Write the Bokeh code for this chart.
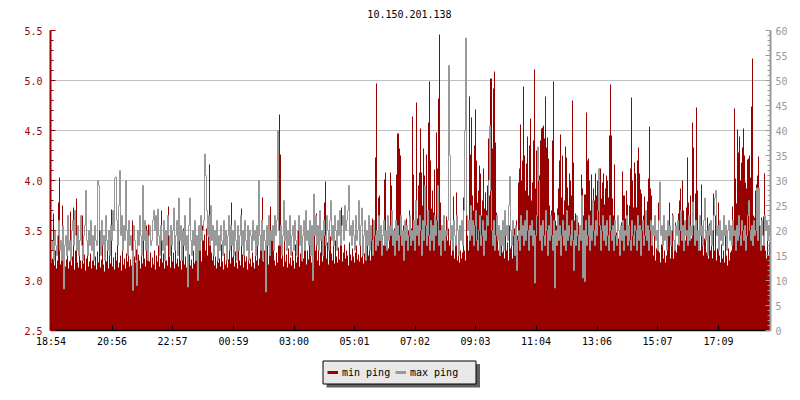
from bokeh.plotting import figure
from bokeh.layouts import column
from bokeh.models import (Range1d, LinearAxis, SingleIntervalTicker, FixedTicker,
                          PrintfTickFormatter)
from bokeh.core.properties import value
from bokeh.embed import file_html
from bokeh.resources import INLINE

title_text = "10.150.201.138"
sample_minutes = 2
tick_minutes = [0, 122, 243, 365, 486, 607, 728, 849, 970, 1092, 1213, 1335]
tick_labels = ["18:54", "20:56", "22:57", "00:59", "03:00", "05:01",
               "07:02", "09:03", "11:04", "13:06", "15:07", "17:09"]
series_names = ["min ping", "max ping"]

# min ping (ms), left axis, one value per 2-minute sample
min_ping = [
    3.18, 3.22, 3.67, 3.15, 3.30, 3.12, 3.20, 3.78, 4.03, 3.16, 3.25, 3.75, 3.10, 3.28, 3.14, 3.21, 3.35, 3.12, 3.19, 3.69,
    3.15, 3.24, 3.73, 3.11, 3.30, 3.82, 3.18, 3.13, 3.40, 3.20, 3.12, 3.65, 3.17, 3.26, 3.10, 3.22, 3.33, 3.14, 3.19, 3.27,
    3.12, 3.20, 3.38, 3.15, 3.24, 3.11, 3.29, 3.18, 3.60, 3.13, 3.21, 3.35, 3.16, 3.09, 3.25, 3.19, 3.30, 3.12, 3.44, 3.17,
    3.71, 3.14, 3.23, 3.11, 3.28, 3.20, 3.36, 3.13, 3.18, 3.25, 3.10, 3.32, 3.16, 3.22, 3.12, 3.27, 3.19, 3.42, 3.14, 3.21,
    3.15, 3.60, 3.10, 3.24, 3.18, 3.31, 3.13, 3.26, 3.20, 3.12, 3.38, 3.17, 3.70, 3.22, 3.14, 3.55, 3.50, 3.56, 3.19, 3.28,
    3.13, 3.23, 3.16, 3.30, 3.11, 3.25, 3.19, 3.35, 3.14, 3.22, 3.70, 3.18, 3.27, 3.12, 3.40, 3.20, 3.15, 3.74, 3.24, 3.13,
    3.55, 3.19, 3.28, 3.12, 3.33, 3.17, 3.22, 3.14, 3.75, 3.20, 3.11, 3.29, 3.52, 3.16, 3.24, 3.13, 3.37, 3.18, 3.26, 3.15,
    3.21, 3.12, 3.30, 3.17, 3.23, 3.45, 3.14, 3.27, 3.50, 3.48, 3.19, 3.55, 3.40, 3.46, 3.30, 3.52, 3.25, 3.44, 4.16, 3.38,
    3.28, 3.20, 3.50, 3.15, 3.24, 3.12, 3.33, 3.18, 3.22, 3.14, 3.36, 3.19, 3.11, 3.27, 3.16, 3.30, 3.13, 3.21, 3.35, 3.17,
    3.78, 3.23, 3.42, 3.14, 3.29, 3.18, 3.12, 3.32, 3.20, 3.15, 3.72, 3.26, 3.13, 3.40, 3.19, 3.24, 3.11, 3.34, 3.17, 3.22,
    3.14, 3.28, 3.18, 3.12, 3.25, 3.20, 3.35, 3.15, 3.22, 3.45, 3.60, 3.83, 3.19, 3.30, 3.10, 3.24, 3.42, 3.16, 3.38, 3.74,
    3.45, 3.40, 3.47, 3.20, 3.15, 3.28, 3.18, 3.35, 4.66, 4.26, 3.22, 3.30, 3.14, 3.40, 3.19, 3.26, 3.13, 3.32, 3.17, 3.23,
    3.15, 3.29, 3.20, 3.12, 3.36, 3.18, 3.24, 3.50, 3.14, 3.27, 3.33, 3.19, 3.22, 3.40, 3.53, 3.16, 3.30, 3.21, 3.38, 3.25,
    3.18, 3.34, 3.23, 3.45, 3.30, 3.67, 3.20, 3.36, 3.15, 3.28, 3.42, 3.19, 3.25, 3.78, 3.99, 3.22, 3.38, 3.16, 3.31, 3.44,
    3.27, 3.20, 3.35, 3.17, 3.40, 3.24, 3.18, 3.33, 3.21, 3.46, 3.73, 3.19, 3.28, 3.36, 3.22, 3.30, 3.25, 3.15, 3.38, 3.26,
    3.20, 3.32, 3.24, 3.18, 3.28, 3.35, 3.21, 3.26, 3.19, 3.40, 3.23, 3.30, 3.17, 3.27, 3.36, 3.22, 3.45, 3.25, 3.31, 3.20,
    3.55, 3.62, 3.48, 3.60, 4.23, 4.97, 3.50, 3.83, 3.85, 3.40, 3.30, 3.45, 3.35, 4.01, 4.08, 3.38, 3.50, 3.32, 3.44, 4.08,
    3.95, 3.48, 3.36, 3.52, 3.40, 4.06, 4.47, 4.47, 4.32, 4.25, 3.60, 3.42, 3.55, 3.38, 3.46, 3.62, 3.35, 3.50, 3.70, 3.44,
    3.52, 4.64, 4.06, 3.58, 3.70, 4.78, 3.62, 3.95, 4.08, 4.52, 4.08, 3.75, 4.32, 4.05, 3.80, 4.26, 3.66, 4.58, 4.99, 4.20,
    3.72, 3.90, 3.68, 4.11, 3.60, 4.48, 4.12, 4.82, 5.46, 3.78, 3.50, 3.42, 3.58, 3.36, 3.48, 3.64, 3.40, 3.52, 3.35, 3.45,
    3.25, 3.40, 3.84, 3.22, 3.35, 3.88, 3.20, 3.38, 3.18, 3.30, 3.22, 3.28, 3.83, 3.30, 3.20, 3.82, 3.45, 3.30, 4.84, 4.26,
    4.63, 3.85, 3.70, 4.35, 4.71, 4.20, 3.78, 3.90, 4.15, 4.07, 3.65, 3.80, 4.12, 3.72, 3.88, 3.70, 3.95, 4.42, 3.85, 5.02,
    5.02, 4.32, 4.92, 5.09, 4.38, 3.68, 3.45, 3.30, 3.42, 3.25, 3.50, 3.28, 3.40, 3.22, 3.46, 3.30, 3.38, 3.20, 3.55, 3.32,
    3.35, 3.22, 3.45, 3.52, 3.30, 3.60, 3.45, 3.98, 4.12, 4.56, 4.00, 4.20, 4.94, 4.25, 3.90, 4.17, 4.44, 3.85, 4.35, 4.62,
    3.80, 3.98, 4.40, 5.11, 3.92, 4.30, 3.85, 4.32, 4.05, 4.40, 4.52, 4.53, 4.55, 4.42, 4.84, 4.33, 4.43, 4.22, 3.75, 3.65,
    3.70, 4.40, 4.99, 3.68, 3.60, 3.55, 3.72, 3.92, 4.20, 4.46, 3.83, 4.25, 3.66, 3.80, 4.34, 4.23, 3.93, 3.75, 4.07, 4.00,
    3.85, 4.80, 4.18, 3.60, 3.67, 3.50, 3.45, 3.58, 3.42, 3.55, 4.06, 3.92, 3.65, 3.86, 3.86, 4.68, 4.20, 4.22, 4.00, 3.70,
    4.06, 3.75, 3.92, 3.80, 4.07, 3.85, 4.00, 3.78, 4.12, 4.12, 3.82, 3.98, 4.07, 3.76, 3.92, 4.05, 4.00, 3.83, 4.45, 4.96,
    4.45, 3.82, 3.65, 4.16, 3.55, 3.48, 3.60, 3.42, 3.50, 3.38, 3.58, 4.09, 3.85, 3.85, 3.62, 3.90, 3.76, 3.55, 3.75, 4.12,
    4.83, 4.00, 3.73, 4.18, 4.07, 3.73, 4.20, 4.33, 4.07, 3.91, 3.87, 3.57, 3.65, 3.84, 3.55, 3.62, 3.79, 4.02, 4.54, 3.92,
    3.85, 3.35, 3.25, 3.45, 3.20, 3.32, 3.42, 3.78, 3.28, 3.18, 3.36, 3.42, 3.22, 3.30, 3.18, 3.25, 3.38, 3.45, 3.78, 3.22,
    3.35, 3.67, 3.22, 3.40, 3.58, 3.28, 3.36, 3.67, 3.80, 3.92, 3.45, 4.00, 3.70, 3.30, 3.40, 3.73, 4.23, 3.78, 3.45, 3.85,
    3.42, 4.58, 4.33, 3.50, 3.87, 4.73, 3.90, 3.38, 3.63, 3.30, 3.96, 3.35, 3.25, 3.42, 3.70, 3.28, 3.63, 3.22, 3.57, 3.30,
    3.35, 3.22, 3.87, 3.30, 3.65, 3.20, 3.32, 3.78, 3.25, 3.18, 3.36, 3.22, 3.30, 3.18, 3.55, 3.25, 3.15, 3.32, 3.20, 3.28,
    3.30, 3.74, 3.45, 4.72, 4.02, 3.77, 4.51, 4.28, 4.44, 4.00, 4.18, 4.33, 4.52, 4.25, 3.98, 3.92, 4.21, 4.22, 4.25, 4.03,
    4.74, 5.22, 3.65, 3.63, 3.90, 3.96, 4.05, 4.24, 3.78, 3.45, 3.63, 3.35, 3.64, 4.07, 3.30, 3.22, 3.40, 3.25, 3.38, 3.28,
]

# max ping (ms), right axis
max_ping = [
    16, 18, 14, 20, 17, 15, 19, 22, 16, 18, 14, 21, 8.3, 17, 19, 15, 23, 16, 18, 14,
    20, 22, 17, 24, 19, 16, 21, 15, 18, 23, 17, 14, 19, 21, 28, 18, 15, 20, 17, 22,
    16, 19, 14, 21, 18, 17, 30, 29, 20, 15, 22, 17, 19, 14, 23, 18, 16, 20, 15, 21,
    18, 24, 20, 30.5, 30.7, 22, 17, 25, 32, 19, 23, 16, 21, 18, 30, 20, 15, 22, 17, 19,
    16, 8, 21, 18, 14, 9, 20, 17, 23, 19, 15, 29, 18, 22, 16, 20, 14, 19, 21, 17,
    18, 22, 24, 20, 23, 17, 24.3, 19, 15, 21, 18, 16, 22, 14, 20, 17, 23, 19, 15, 21,
    17, 20, 24.5, 16, 19, 22, 15, 26.5, 18, 21, 14, 20, 17, 23, 16, 19, 8.7, 21, 26.5, 18,
    15, 20, 17, 22, 14, 19, 10, 21, 16, 23, 18, 20, 22, 35.3, 31, 24, 19, 23, 17, 25,
    18, 21, 15, 20, 17, 22, 14, 19, 16, 21, 18, 15, 22, 17, 20, 14, 19, 23, 16, 21,
    17, 20, 15, 22, 18, 14, 21, 16, 19, 23, 17, 20, 15, 22, 18, 16, 21, 14, 20, 19,
    16, 22, 18, 20, 15, 21, 17, 30, 19, 16, 22, 14, 20, 18, 7.7, 21, 17, 23, 15, 20,
    18, 21, 16, 23, 19, 22, 40, 20, 17, 21, 15, 19, 26, 18, 22, 16, 20, 17, 23, 15,
    19, 21, 16, 22, 18, 15, 20, 23, 17, 21, 14, 19, 22, 16, 24, 18, 20, 17, 22, 15,
    21, 10, 27.3, 19, 23, 17, 21, 16, 24, 18, 20, 15, 22, 19, 17, 23, 20, 16, 22, 26,
    18, 21, 17, 23, 20, 16, 22, 19, 24, 17, 21, 23, 18, 25, 20, 22, 24, 29, 19, 21,
    17, 22, 19, 16, 23, 18, 20, 26, 17, 21, 24.5, 15, 19, 22, 14, 20, 17, 23, 16, 21,
    18, 15, 22, 19, 16, 20, 17, 23, 18, 21, 15, 19, 22, 17, 20, 16, 23, 18, 21, 19,
    24, 17, 20, 15, 22, 18, 21, 16, 19, 23, 17, 20, 14, 22, 18, 21, 16, 19, 23, 17,
    20, 18, 22, 16, 26, 19, 21, 17, 23, 20, 15, 22, 18, 29, 21, 17, 24, 19, 16, 22,
    18, 21, 16, 23, 19, 22, 29, 17, 20, 15, 21, 18, 23, 16, 20, 19, 22, 53, 35, 18,
    21, 16, 22, 19, 17, 23, 20, 15, 21, 18, 22, 17, 24, 40, 58.5, 23, 20, 22, 18, 25,
    19, 22, 17, 21, 24, 18, 16, 20, 23, 17, 19, 22, 15, 20, 18, 23, 21, 30, 41, 28,
    20, 17, 22, 16, 19, 23, 18, 21, 15, 20, 17, 22, 16, 24, 19, 21, 18, 25, 30.8, 20,
    17, 22, 19, 15, 21, 12, 18, 20, 16, 23, 19, 21, 17, 22, 18, 24, 20, 16, 21, 19,
    22, 17, 20, 9.5, 19, 23, 36.7, 30, 18, 21, 16, 22, 19, 17, 24, 20, 15, 21, 18, 23,
    19, 16, 22, 8.5, 20, 17, 23, 18, 21, 15, 19, 22, 17, 20, 16, 24, 18, 21, 19, 17,
    22, 18, 12, 20, 17, 23, 19, 16, 21, 18, 27, 10.5, 20, 9.8, 22, 17, 19, 23, 16, 21,
    18, 26, 20, 17, 22, 19, 24, 32.3, 21, 16, 20, 23, 18, 21, 17, 22, 19, 16, 23, 20,
    18, 21, 16, 22, 19, 17, 23, 20, 15, 21, 18, 22, 16, 20, 19, 23, 17, 21, 18, 16,
    22, 19, 17, 21, 20, 16, 23, 18, 21, 15, 20, 22, 17, 19, 24, 18, 21, 16, 20, 22,
    17, 21, 19, 23, 18, 20, 16, 22, 29.7, 19, 21, 17, 23, 18, 20, 16, 22, 19, 21, 17,
    20, 23, 18, 16, 21, 19, 22, 17, 20, 24, 18, 21, 16, 22, 19, 20, 17, 23, 18, 21,
    19, 25.7, 21, 17, 22, 18, 20, 16, 23, 19, 21, 17, 22, 26.5, 18, 20, 15, 21, 19, 22,
    17, 20, 23, 26.5, 28, 19, 21, 16, 22, 18, 20, 17, 23, 19, 21, 16, 20, 22, 18, 21,
    17, 22, 19, 20, 16, 21, 18, 23, 19, 17, 22, 20, 18, 21, 16, 19, 23, 26, 20, 18,
    21, 17, 22, 19, 20, 28.5, 18, 28.5, 21, 16, 22, 19, 17, 23, 20, 22, 18, 21, 19, 22,
]

RED = "#990000"
GRAY = "#999999"
FONT = "DejaVu Sans Mono"

n_min = len(min_ping)
x_edges = [i * sample_minutes for i in range(n_min + 1)]
min_steps = min_ping + [min_ping[-1]]
x_mid = [i * sample_minutes + sample_minutes / 2 for i in range(len(max_ping))]

# The column aligns every frame to the chart's frame (x 50..770 on the page), so the
# title and legend strips use page-pixel ranges over that same span.

# ---- title strip ----
tf = figure(width=800, height=24, x_range=Range1d(50, 770), y_range=Range1d(0, 24),
            output_backend="svg", toolbar_location=None, min_border=0,
            x_axis_location=None, y_axis_location=None)
tf.outline_line_color = None
tf.xgrid.visible = False
tf.ygrid.visible = False
tf.text(x=[409], y=[11], text=[title_text], text_font=value(FONT), text_font_size="10px",
        text_align="center", text_baseline="middle", text_color="black")

# ---- main chart ----
p = figure(frame_width=720, frame_height=300,
           x_range=Range1d(-1, 1439), y_range=Range1d(2.5, 5.5),
           output_backend="svg", toolbar_location=None,
           min_border_left=50, min_border_right=30, min_border_top=6, min_border_bottom=28)
p.outline_line_color = None
p.background_fill_color = "white"
p.border_fill_color = "white"

p.extra_y_ranges = {"max": Range1d(0, 60)}

p.varea_step(x=x_edges, y1=2.5, y2=min_steps, step_mode="after", fill_color=RED, fill_alpha=1.0)
p.step(x=x_mid, y=max_ping, mode="after", y_range_name="max", line_color=GRAY, line_width=1)

left_ticker = SingleIntervalTicker(interval=0.5, num_minor_ticks=5)
ya = p.yaxis[0]
ya.ticker = left_ticker
ya.formatter = PrintfTickFormatter(format="%.1f")
ya.axis_line_color = RED
ya.axis_line_width = 2
ya.major_tick_line_color = RED
ya.minor_tick_line_color = RED
ya.major_tick_in = 5
ya.major_tick_out = 0
ya.minor_tick_in = 3
ya.minor_tick_out = 0
ya.major_label_text_color = RED
ya.major_label_text_font = FONT
ya.major_label_text_font_size = "10px"
ya.major_label_standoff = 8

ra = LinearAxis(y_range_name="max", ticker=SingleIntervalTicker(interval=5, num_minor_ticks=5))
ra.axis_line_color = GRAY
ra.axis_line_width = 2
ra.major_tick_line_color = GRAY
ra.minor_tick_line_color = GRAY
ra.major_tick_in = 5
ra.major_tick_out = 0
ra.minor_tick_in = 3
ra.minor_tick_out = 0
ra.major_label_text_color = GRAY
ra.major_label_text_font = FONT
ra.major_label_text_font_size = "10px"
ra.major_label_standoff = 5
p.add_layout(ra, "right")

xa = p.xaxis[0]
xa.ticker = FixedTicker(ticks=tick_minutes, minor_ticks=[])
xa.major_label_overrides = {t: l for t, l in zip(tick_minutes, tick_labels)}
xa.axis_line_color = "black"
xa.axis_line_width = 1.5
xa.major_tick_line_color = "black"
xa.major_tick_in = 5
xa.major_tick_out = 0
xa.minor_tick_line_color = None
xa.major_label_text_color = "black"
xa.major_label_text_font = FONT
xa.major_label_text_font_size = "10px"
xa.major_label_standoff = 5

p.xgrid.visible = False
p.ygrid.ticker = left_ticker
p.ygrid.grid_line_color = "#c0c0c0"
p.ygrid.grid_line_width = 1

# ---- legend strip (box with drop shadow) ----
lg = figure(width=800, height=32, x_range=Range1d(50, 770), y_range=Range1d(0, 32),
            output_backend="svg", toolbar_location=None, min_border=0,
            x_axis_location=None, y_axis_location=None)
lg.outline_line_color = None
lg.xgrid.visible = False
lg.ygrid.visible = False
lg.quad(left=[326], right=[479.5], bottom=[3], top=[26.5], fill_color="#606060", line_color=None)
lg.quad(left=[322.5], right=[475.5], bottom=[6.5], top=[29.5], fill_color="#e8e8e8",
        line_color="black", line_width=1)
lg.segment(x0=[327, 395], y0=[18, 18], x1=[337.5, 405.5], y1=[18, 18],
           line_color=[RED, GRAY], line_width=3)
lg.text(x=[341.5, 409.5], y=[18.5, 18.5], text=series_names, text_font=value(FONT),
        text_font_size="10px", text_align="left", text_baseline="middle", text_color="black")

layout = column(tf, p, lg, spacing=0)
open("out.html", "w").write(file_html(layout, INLINE))
